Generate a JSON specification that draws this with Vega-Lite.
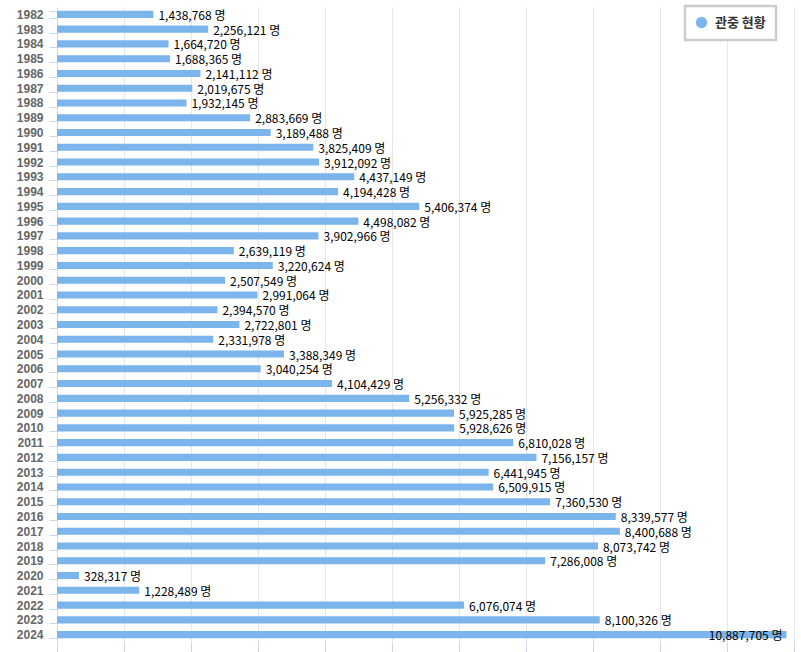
{
  "$schema": "https://vega.github.io/schema/vega-lite/v6.json",
  "width": 737,
  "height": 635,
  "autosize": {"type": "none"},
  "padding": {"left": 57, "top": 7, "right": 7, "bottom": 10},
  "background": "white",
  "config": {"view": {"stroke": null}, "font": "Liberation Sans"},
  "data": {
    "values": [
      {"year": "1982", "attendance": 1438768},
      {"year": "1983", "attendance": 2256121},
      {"year": "1984", "attendance": 1664720},
      {"year": "1985", "attendance": 1688365},
      {"year": "1986", "attendance": 2141112},
      {"year": "1987", "attendance": 2019675},
      {"year": "1988", "attendance": 1932145},
      {"year": "1989", "attendance": 2883669},
      {"year": "1990", "attendance": 3189488},
      {"year": "1991", "attendance": 3825409},
      {"year": "1992", "attendance": 3912092},
      {"year": "1993", "attendance": 4437149},
      {"year": "1994", "attendance": 4194428},
      {"year": "1995", "attendance": 5406374},
      {"year": "1996", "attendance": 4498082},
      {"year": "1997", "attendance": 3902966},
      {"year": "1998", "attendance": 2639119},
      {"year": "1999", "attendance": 3220624},
      {"year": "2000", "attendance": 2507549},
      {"year": "2001", "attendance": 2991064},
      {"year": "2002", "attendance": 2394570},
      {"year": "2003", "attendance": 2722801},
      {"year": "2004", "attendance": 2331978},
      {"year": "2005", "attendance": 3388349},
      {"year": "2006", "attendance": 3040254},
      {"year": "2007", "attendance": 4104429},
      {"year": "2008", "attendance": 5256332},
      {"year": "2009", "attendance": 5925285},
      {"year": "2010", "attendance": 5928626},
      {"year": "2011", "attendance": 6810028},
      {"year": "2012", "attendance": 7156157},
      {"year": "2013", "attendance": 6441945},
      {"year": "2014", "attendance": 6509915},
      {"year": "2015", "attendance": 7360530},
      {"year": "2016", "attendance": 8339577},
      {"year": "2017", "attendance": 8400688},
      {"year": "2018", "attendance": 8073742},
      {"year": "2019", "attendance": 7286008},
      {"year": "2020", "attendance": 328317},
      {"year": "2021", "attendance": 1228489},
      {"year": "2022", "attendance": 6076074},
      {"year": "2023", "attendance": 8100326},
      {"year": "2024", "attendance": 10887705}
    ]
  },
  "transform": [{"calculate": "format(datum.attendance, ',') + ' 명'", "as": "label"}],
  "encoding": {
    "y": {
      "field": "year",
      "type": "ordinal",
      "scale": {"paddingInner": 0.52, "paddingOuter": 0.26},
      "axis": {
        "title": null,
        "domainColor": "#ccd6eb",
        "tickColor": "#ccd6eb",
        "tickSize": 8,
        "tickBand": "extent",
        "labelColor": "#666666",
        "labelFontSize": 12,
        "labelFontWeight": "bold",
        "labelPadding": 6
      }
    },
    "x": {
      "field": "attendance",
      "type": "quantitative",
      "scale": {"domain": [0, 11000000], "nice": false},
      "axis": {
        "title": null,
        "labels": false,
        "domain": false,
        "gridColor": "#e6e6e6",
        "tickColor": "#ccd6eb",
        "tickSize": 10,
        "values": [0, 1000000, 2000000, 3000000, 4000000, 5000000, 6000000, 7000000, 8000000, 9000000, 10000000, 11000000]
      }
    }
  },
  "layer": [
    {
      "mark": {"type": "bar"},
      "encoding": {
        "color": {
          "datum": "관중 현황",
          "type": "nominal",
          "scale": {"range": ["#7cb5ec"]},
          "legend": {
            "title": null,
            "orient": "none",
            "legendX": 628,
            "legendY": -1,
            "fillColor": "white",
            "strokeColor": "#cccccc",
            "padding": 10,
            "symbolType": "circle",
            "symbolSize": 130,
            "symbolStrokeWidth": 0,
            "labelFontSize": 13,
            "labelFontWeight": "bold",
            "labelColor": "#333333",
            "labelOffset": 7,
            "labelFont": "Noto Sans CJK KR",
            "encode": {"legend": {"update": {"strokeWidth": {"value": 2.5}}}}
          }
        }
      }
    },
    {
      "transform": [{"filter": "datum.attendance < 10000000"}],
      "mark": {"type": "text", "align": "left", "baseline": "middle", "dx": 5, "dy": 1.5, "fontSize": 12, "font": "Liberation Sans Narrow, Noto Sans CJK KR", "color": "#000000"},
      "encoding": {"text": {"field": "label"}}
    },
    {
      "transform": [{"filter": "datum.attendance >= 10000000"}],
      "mark": {"type": "text", "align": "right", "baseline": "middle", "dx": -4, "dy": 1.5, "fontSize": 12, "font": "Liberation Sans Narrow, Noto Sans CJK KR", "color": "#000000"},
      "encoding": {"text": {"field": "label"}}
    }
  ]
}
